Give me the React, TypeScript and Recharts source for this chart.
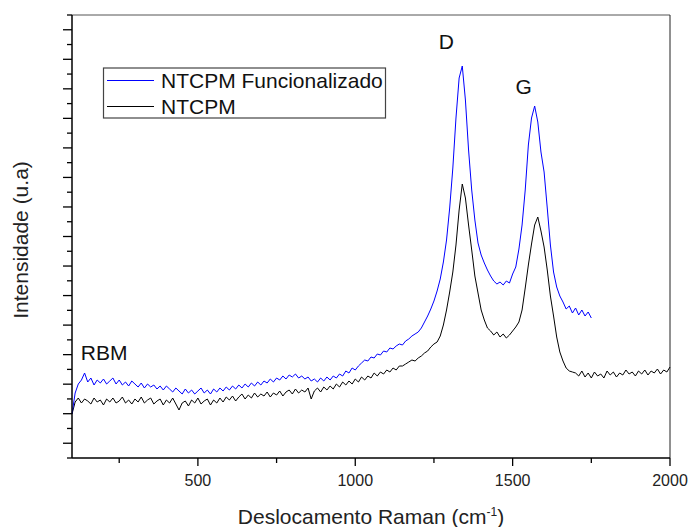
import { LineChart, Line, XAxis, YAxis, ReferenceLine, ReferenceDot, Label } from "recharts";

// Raman shift grid (cm-1) shared by both spectra
const shiftStart = 100;
const shiftStep = 10;

// NTCPM (black), 100 .. 2000 cm-1
const ntcpm = [
  44, 56, 60, 55, 59, 57, 54, 60, 56, 58,
  53, 59, 56, 60, 55, 57, 61, 55, 58, 54,
  59, 56, 61, 55, 58, 60, 54, 57, 59, 53,
  58, 55, 60, 54, 48, 55, 57, 52, 58, 55,
  60, 54, 57, 59, 53, 58, 55, 60, 56, 61,
  58, 62, 57, 61, 64, 59, 63, 60, 65, 61,
  64, 62, 66, 61, 65, 63, 67, 62, 66, 68,
  64, 69, 65, 68, 66, 70, 59, 67, 70, 66,
  71, 68, 72, 69, 74, 71, 76, 73, 77, 74,
  79, 76, 81, 78, 82, 80, 85, 82, 86, 84,
  88, 86, 90, 88, 92, 92, 94, 96, 98, 97,
  100, 102, 105, 107, 111, 114, 116, 122, 133, 148,
  166, 186, 213, 248, 274, 260, 233, 208, 182, 165,
  148, 138, 130, 127, 123, 126, 121, 124, 120, 123,
  127, 131, 136, 148, 170, 193, 214, 233, 241, 227,
  211, 188, 162, 142, 121, 106, 97, 90, 87, 86,
  85, 82, 87, 81, 85, 80, 86, 82, 84, 80,
  87, 83, 86, 81, 85, 83, 88, 84, 86, 82,
  87, 84, 88, 83, 87, 85, 89, 84, 88, 86,
  91,
];

// NTCPM Funcionalizado (blue), 100 .. 1750 cm-1
const funcionalizado = [
  44, 65, 74, 78, 85, 76, 80, 73, 78, 75,
  79, 74, 77, 80, 74, 78, 73, 76, 72, 77,
  74, 71, 75, 70, 74, 71, 73, 69, 72, 68,
  72, 69, 66, 70, 67, 64, 69, 65, 68, 64,
  67, 70, 65, 68, 64, 69, 66, 70, 67, 71,
  68, 72, 69, 73, 70, 74, 71, 75, 72, 76,
  73, 77, 75, 79, 76, 80, 78, 82, 79, 83,
  81, 84, 80, 82, 79, 81, 77, 79, 76, 80,
  77, 81, 78, 82, 80, 84, 82, 87, 85, 90,
  88, 92, 95, 98, 97, 101, 100, 104, 103, 107,
  106, 110, 109, 112, 114, 113, 117, 119, 122, 124,
  126, 130, 136, 142, 149, 157, 167, 179, 196, 218,
  250, 290, 340, 380, 392, 358, 308, 268, 238, 215,
  203, 195, 188, 182, 177, 174, 176, 173, 177, 175,
  184, 191, 209, 233, 268, 313, 340, 352, 336, 306,
  286, 250, 213, 186, 171, 162, 156, 149, 152, 145,
  150, 143, 148, 142, 146, 140,
];

const seriesNames = ["NTCPM Funcionalizado", "NTCPM"];
const seriesColors = ["#0000ff", "#000000"];

const xTicks = [250, 500, 750, 1000, 1250, 1500, 1750, 2000];
const xLabelled = [500, 1000, 1500, 2000];
const yTop = 443;
const yTicks = Array.from({ length: 31 }, (_, k) => (k * yTop) / 30);

const peaks = [
  { text: "RBM", shift: 202, intensity: 105 },
  { text: "D", shift: 1289, intensity: 416 },
  { text: "G", shift: 1535, intensity: 371 },
];

const data = ntcpm.map((v, i) => ({
  shift: shiftStart + i * shiftStep,
  ntcpm: v,
  func: i < funcionalizado.length ? funcionalizado[i] : undefined,
}));

const font = '"Liberation Sans", Arial, Helvetica, sans-serif';

const XTick = (props: any) => {
  const { x, y, payload } = props;
  const major = xLabelled.includes(payload.value);
  return (
    <g>
      <line x1={x} y1={y} x2={x} y2={y + (major ? 8 : 5)} stroke="#000" strokeWidth={1.3} />
      {major && (
        <text x={x} y={y + 28} textAnchor="middle" fontSize={16} fill="#222" fontFamily={font}>
          {payload.value}
        </text>
      )}
    </g>
  );
};

const YTick = (props: any) => {
  const { x, y, index } = props;
  const len = index % 2 === 1 ? 9 : 5;
  return <line x1={x} y1={y} x2={x - len} y2={y} stroke="#000" strokeWidth={1.3} />;
};

export default function App() {
  return (
    <div style={{ position: "absolute", left: 0, top: 0, width: 690, height: 527, background: "#fff" }}>
      <LineChart
        width={690}
        height={527}
        data={data}
        margin={{ top: 15, right: 20, left: 12, bottom: 19 }}
      >
        <XAxis
          dataKey="shift"
          type="number"
          domain={[100, 2000]}
          ticks={xTicks}
          interval={0}
          height={50}
          tickSize={0}
          tickMargin={0}
          tickLine={false}
          tick={(p: any) => <XTick {...p} />}
          axisLine={{ stroke: "#000", strokeWidth: 1.5 }}
        >
          <Label
            content={() => (
              <text x={371} y={524} textAnchor="middle" fontSize={21} fill="#222" fontFamily={font}>
                Deslocamento Raman (cm
                <tspan dy={-8} fontSize={12}>-1</tspan>
                <tspan dy={8}>)</tspan>
              </text>
            )}
          />
        </XAxis>
        <YAxis
          type="number"
          domain={[0, yTop]}
          ticks={yTicks}
          interval={0}
          width={60}
          tickSize={0}
          tickMargin={0}
          tickLine={false}
          tick={(p: any) => <YTick {...p} />}
          axisLine={{ stroke: "#000", strokeWidth: 1.5 }}
        >
          <Label
            content={() => (
              <text
                transform="translate(28,240) rotate(-90)"
                textAnchor="middle"
                fontSize={21}
                fill="#222"
                fontFamily={font}
              >
                Intensidade (u.a)
              </text>
            )}
          />
        </YAxis>
        <ReferenceLine y={yTop} stroke="#555" strokeWidth={1} />
        <ReferenceLine x={2000} stroke="#222" strokeWidth={1} />
        <Line
          type="linear"
          dataKey="ntcpm"
          name={seriesNames[1]}
          stroke={seriesColors[1]}
          strokeWidth={1}
          dot={false}
          isAnimationActive={false}
        />
        <Line
          type="linear"
          dataKey="func"
          name={seriesNames[0]}
          stroke={seriesColors[0]}
          strokeWidth={1}
          dot={false}
          isAnimationActive={false}
        />
        {peaks.map((p) => (
          <ReferenceDot
            key={p.text}
            x={p.shift}
            y={p.intensity}
            r={0}
            fill="none"
            stroke="none"
            label={{ value: p.text, position: "center", fontSize: 21, fill: "#111", fontFamily: font }}
          />
        ))}
      </LineChart>
      <svg
        width={690}
        height={527}
        style={{ position: "absolute", left: 0, top: 0, pointerEvents: "none" }}
      >
        <rect x={103.5} y={68} width={282} height={50} fill="#fff" stroke="#444" strokeWidth={1.2} />
        {seriesNames.map((name, i) => (
          <g key={name}>
            <line x1={107} x2={154} y1={80.5 + i * 26} y2={80.5 + i * 26} stroke={seriesColors[i]} strokeWidth={1} />
            <text x={161} y={88 + i * 25.5} fontSize={21} fill="#111" fontFamily={font}>
              {name}
            </text>
          </g>
        ))}
      </svg>
    </div>
  );
}
